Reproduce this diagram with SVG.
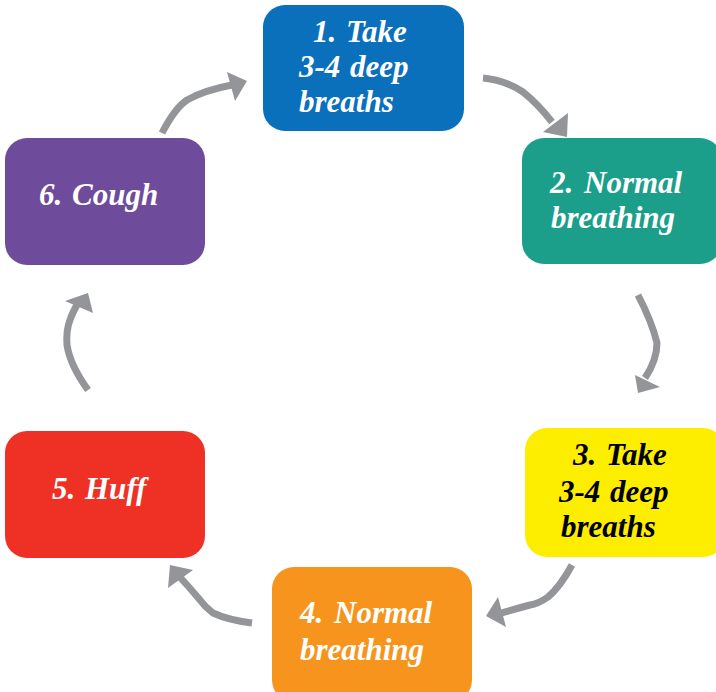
<svg xmlns="http://www.w3.org/2000/svg" width="716" height="692" viewBox="0 0 716 692">
<style>
.box{stroke:none}
.lbl{font-family:"Liberation Serif","Times New Roman",serif;font-weight:bold;font-style:italic;font-size:31px;fill:#ffffff}
.dark{fill:#000000}
.conn{fill:none;stroke:#939598;stroke-width:7;stroke-linejoin:round}
.head{fill:#939598;stroke:none}
</style>
<rect width="716" height="692" fill="#ffffff"/>
<g id="connectors">
<path class="conn" d="M162,133 Q175,108 187,100 Q205,90 232,85"/>
<polygon class="head" points="227,72 247,81 235,101"/>
<path class="conn" d="M483,78 Q505,80 523,92 Q538,104 552,122"/>
<polygon class="head" points="568,113 543,132 567,137"/>
<path class="conn" d="M638,295 Q652,322 657,343 Q657,360 645,378"/>
<polygon class="head" points="635,375 660,387 638,393"/>
<path class="conn" d="M572,565 Q560,587 548,597 Q538,604 530,605 Q515,609 498,614"/>
<polygon class="head" points="498,597 486,616 506,627"/>
<path class="conn" d="M252,623 Q228,620 213,613 Q205,607 200,600 Q190,588 178,575"/>
<polygon class="head" points="168,588 170,565 193,570"/>
<path class="conn" d="M88,390 Q70,365 67,345 Q66,330 70,320 Q73,311 80,300"/>
<polygon class="head" points="65,301 88,293 93,313"/>
</g>
<g id="node1">
<rect class="box" x="263" y="5" width="201" height="126" rx="22" fill="#0B70BC"/>
<text class="lbl" x="313" y="42" word-spacing="2">1. Take</text>
<text class="lbl" x="299" y="77" word-spacing="2">3-4 deep</text>
<text class="lbl" x="299" y="112">breaths</text>
</g>
<g id="node2">
<rect class="box" x="522" y="138" width="200" height="126" rx="22" fill="#1B9E8A"/>
<text class="lbl" x="550" y="193" word-spacing="3">2. Normal</text>
<text class="lbl" x="551" y="228">breathing</text>
</g>
<g id="node3">
<rect class="box" x="525" y="428" width="200" height="129" rx="22" fill="#FDEE00"/>
<text class="lbl dark" x="573" y="465" word-spacing="2">3. Take</text>
<text class="lbl dark" x="559" y="502" word-spacing="2">3-4 deep</text>
<text class="lbl dark" x="561" y="537">breaths</text>
</g>
<g id="node4">
<rect class="box" x="272" y="567" width="200" height="135" rx="22" fill="#F7941D"/>
<text class="lbl" x="300" y="623" word-spacing="3">4. Normal</text>
<text class="lbl" x="300" y="660">breathing</text>
</g>
<g id="node5">
<rect class="box" x="5" y="431" width="200" height="127" rx="22" fill="#EE3124"/>
<text class="lbl" x="52" y="499" word-spacing="2">5. Huff</text>
</g>
<g id="node6">
<rect class="box" x="5" y="138" width="200" height="127" rx="22" fill="#6E4C9B"/>
<text class="lbl" x="39" y="205" word-spacing="2">6. Cough</text>
</g>
</svg>
